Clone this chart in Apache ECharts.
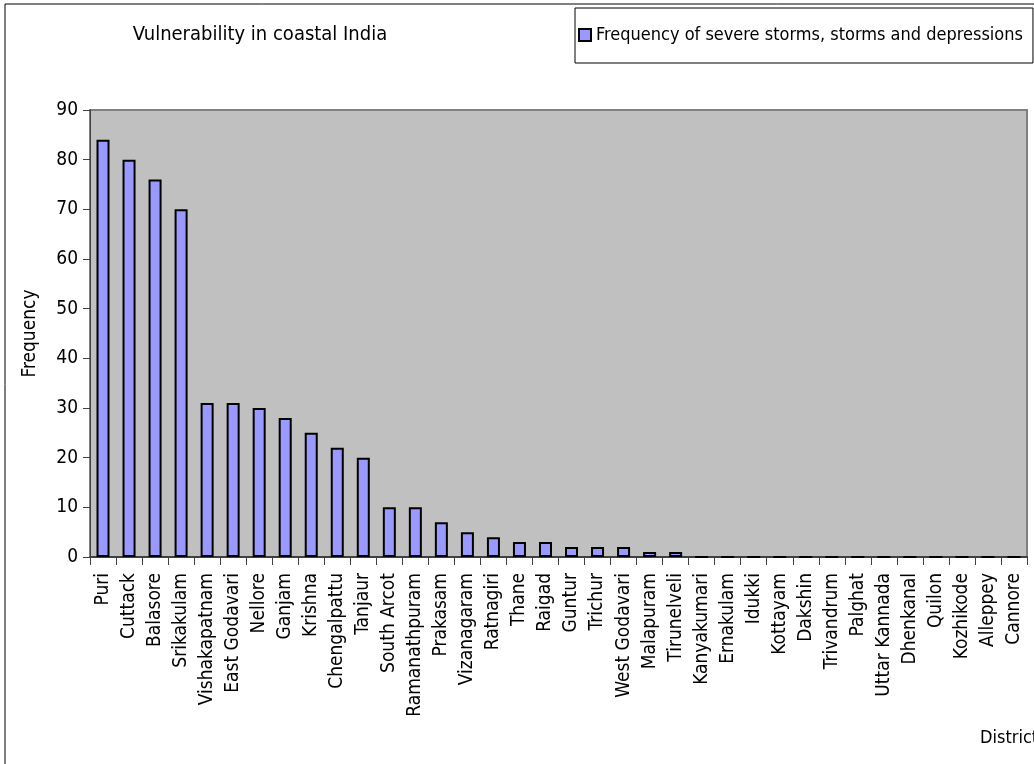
<!DOCTYPE html>
<html>
<head>
<meta charset="utf-8">
<script src="https://cdn.jsdelivr.net/npm/echarts@6/dist/echarts.min.js"></script>
<style>
  html, body { margin: 0; padding: 0; background: #fff; }
  #main { width: 1034px; height: 764px; }
</style>
</head>
<body>
<div id="main"></div>
<script>
var districts = ['Puri', 'Cuttack', 'Balasore', 'Srikakulam', 'Vishakapatnam', 'East Godavari',
    'Nellore', 'Ganjam', 'Krishna', 'Chengalpattu', 'Tanjaur', 'South Arcot', 'Ramanathpuram',
    'Prakasam', 'Vizanagaram', 'Ratnagiri', 'Thane', 'Raigad', 'Guntur', 'Trichur', 'West Godavari',
    'Malapuram', 'Tirunelveli', 'Kanyakumari', 'Ernakulam', 'Idukki', 'Kottayam', 'Dakshin',
    'Trivandrum', 'Palghat', 'Uttar Kannada', 'Dhenkanal', 'Quilon', 'Kozhikode', 'Alleppey', 'Cannore'];
var frequency = [84, 80, 76, 70, 31, 31, 30, 28, 25, 22, 20, 10, 10, 7, 5, 4, 3, 3, 2, 2, 2,
    1, 1, 0, 0, 0, 0, 0, 0, 0, 0, 0, 0, 0, 0, 0];
var seriesName = 'Frequency of severe storms, storms and depressions';

var font = '"DejaVu Sans Condensed", "Liberation Sans Narrow", "Arial Narrow", sans-serif';
var myChart = echarts.init(document.getElementById('main'));

var option = {
    backgroundColor: '#fff',
    animation: false,
    title: {
        text: 'Vulnerability in coastal India',
        left: 255,
        top: 20,
        textAlign: 'center',
        textStyle: { color: '#000', fontSize: 20, fontWeight: 'normal', fontFamily: font }
    },
    legend: {
        data: [seriesName],
        left: 575,
        top: 8,
        padding: [18, 10, 19, 3],
        borderColor: '#000',
        borderWidth: 1,
        backgroundColor: '#fff',
        icon: 'rect',
        itemWidth: 12,
        itemHeight: 12,
        itemGap: 4,
        itemStyle: { borderColor: '#000', borderWidth: 2 },
        textStyle: { color: '#000', fontSize: 18, fontFamily: font }
    },
    graphic: [
        {
            type: 'rect',
            shape: { x: 5, y: 4, width: 1040, height: 770 },
            style: { fill: 'none', stroke: '#000', lineWidth: 1 },
            z: -1
        }
    ],
    grid: {
        left: 90,
        right: 7,
        top: 110,
        bottom: 207,
        outerBoundsMode: 'none',
        show: true,
        backgroundColor: '#c0c0c0',
        borderColor: '#808080',
        borderWidth: 2
    },
    xAxis: {
        type: 'category',
        data: districts,
        name: 'Districts',
        nameLocation: 'end',
        nameGap: -47,
        nameTextStyle: {
            color: '#000', fontSize: 18, fontFamily: font,
            align: 'left', verticalAlign: 'top', padding: [172, 0, 0, 0]
        },
        axisLine: { lineStyle: { color: '#404040', width: 2 } },
        axisTick: { show: true, alignWithLabel: false, length: 8, lineStyle: { color: '#404040' } },
        axisLabel: {
            interval: 0,
            rotate: 90,
            color: '#000',
            fontSize: 19,
            fontFamily: font,
            margin: 16
        },
        splitLine: { show: false }
    },
    yAxis: {
        type: 'value',
        min: 0,
        max: 90,
        interval: 10,
        name: 'Frequency',
        nameLocation: 'middle',
        nameGap: 50,
        nameTextStyle: { color: '#000', fontSize: 19, fontFamily: font },
        axisLine: { show: true, lineStyle: { color: '#404040', width: 1 } },
        axisTick: { show: true, length: 7, lineStyle: { color: '#404040' } },
        axisLabel: { color: '#000', fontSize: 19, fontFamily: font, margin: 12 },
        splitLine: { show: false }
    },
    series: [
        {
            name: seriesName,
            type: 'bar',
            data: frequency,
            barWidth: '50%',
            itemStyle: { color: '#9999ff', borderColor: '#000', borderWidth: 2 }
        }
    ]
};

myChart.setOption(option);
</script>
</body>
</html>
